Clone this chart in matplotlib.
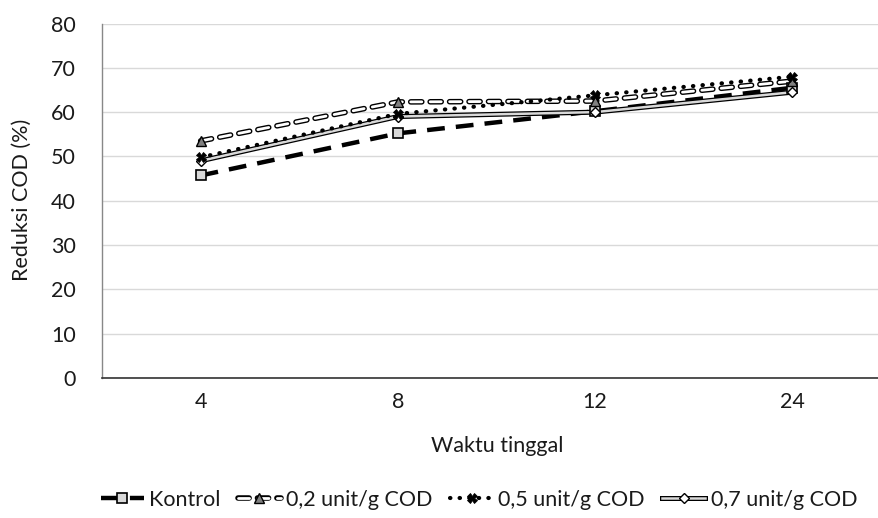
import matplotlib
matplotlib.use("Agg")
import matplotlib.pyplot as plt
import matplotlib.patheffects as pe
import numpy as np

categories = ["4", "8", "12", "24"]
kontrol = [45.7, 55.2, 60.2, 65.5]
unit02 = [53.5, 62.3, 62.5, 67.0]
unit05 = [49.8, 59.6, 63.8, 68.0]
unit07 = [49.0, 59.0, 60.0, 64.5]
labels = ["Kontrol", "0,2 unit/g COD", "0,5 unit/g COD", "0,7 unit/g COD"]
yticks = [0, 10, 20, 30, 40, 50, 60, 70, 80]

plt.rcParams['font.family'] = ['Lato', 'DejaVu Sans']
FS = 15.5

W, H = 879, 518
fig = plt.figure(figsize=(W/100, H/100), dpi=100)
left, right = 102, 891
top, bottom = 23.5, 378
ax = fig.add_axes([left/W, 1-bottom/H, (right-left)/W, (bottom-top)/H])

x = np.arange(len(categories))

handles = []
# Kontrol
l1, = ax.plot(x, kontrol, color='black', lw=3.2, linestyle=(0, (4, 2.5)), dash_capstyle='butt', zorder=3)
m1, = ax.plot(x, kontrol, linestyle='none', marker='s', markersize=6.5, markerfacecolor='#d9d9d9',
              markeredgecolor='black', markeredgewidth=1.2, zorder=5)
handles.append((l1, m1))
# 0,2
l2, = ax.plot(x, unit02, color='white', lw=2.0, linestyle=(0, (4, 3)), dash_capstyle='round', zorder=3,
              path_effects=[pe.Stroke(linewidth=4.0, foreground='black'), pe.Normal()])
m2, = ax.plot(x, unit02, linestyle='none', marker='^', markersize=7, markerfacecolor='#808080',
              markeredgecolor='black', markeredgewidth=1.0, zorder=5)
handles.append((l2, m2))
# 0,5
l3, = ax.plot(x, unit05, color='black', lw=3.0, linestyle=(0, (0.1, 2.2)), dash_capstyle='round', zorder=4)
m3, = ax.plot(x, unit05, linestyle='none', marker='X', markersize=7, markerfacecolor='black',
              markeredgecolor='black', markeredgewidth=0.6, zorder=6)
handles.append((l3, m3))
# 0,7
l4, = ax.plot(x, unit07, color='#d9d9d9', lw=1.8, linestyle='-', zorder=3,
              path_effects=[pe.Stroke(linewidth=3.6, foreground='black'), pe.Normal()])
m4, = ax.plot(x, unit07, linestyle='none', marker='D', markersize=5.5, markerfacecolor='white',
              markeredgecolor='black', markeredgewidth=1.0, zorder=5)
handles.append((l4, m4))

ax.set_xlim(-0.5, len(categories)-0.5)
ax.set_ylim(0, 80)
ax.set_yticks(yticks)
ax.set_xticks(x)
ax.set_xticklabels(categories)
ax.tick_params(axis='both', length=0, labelsize=FS, colors='#1a1a1a')
ax.tick_params(axis='y', pad=19)
ax.tick_params(axis='x', pad=10)
ax.grid(axis='y', color='#d9d9d9', lw=1.0)
ax.set_axisbelow(True)
for s in ['top', 'right']:
    ax.spines[s].set_visible(False)
ax.spines['left'].set_color('#888888')
ax.spines['left'].set_linewidth(1.0)
ax.spines['bottom'].set_color('#333333')
ax.spines['bottom'].set_linewidth(1.2)

fig.text(22/W, 1-200/H, "Reduksi COD (%)", rotation=90, ha='center', va='center',
         fontsize=FS, color='#1a1a1a')
fig.text(497/W, 1-446/H, "Waktu tinggal", ha='center', va='center',
         fontsize=FS, color='#1a1a1a')

leg = fig.legend(handles, labels, loc='center', bbox_to_anchor=(479/W, 1-500/H),
                 ncol=4, frameon=False, fontsize=FS, handlelength=2.0,
                 columnspacing=0.8, handletextpad=0.25, labelcolor='#1a1a1a')

fig.savefig("out.png", dpi=100)
